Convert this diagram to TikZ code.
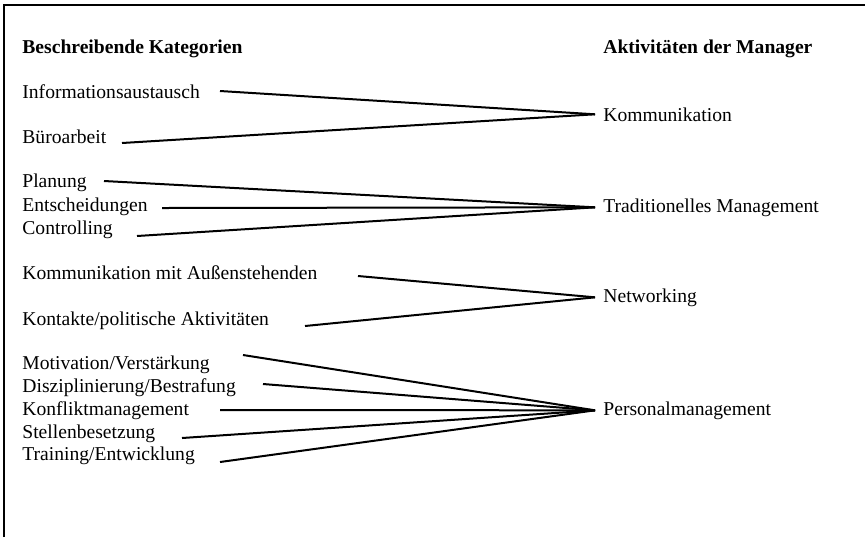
\documentclass[tikz,border=0pt]{standalone}
\usepackage{fontspec}
\setmainfont{Liberation Serif}
\begin{document}
\begin{tikzpicture}[x=0.5pt,y=-0.5pt,
		kat/.style={anchor=base west,inner sep=0pt,font=\fontsize{9.8}{12}\selectfont},
		ziel/.style={anchor=base west,inner xsep=4pt,inner ysep=0pt,font=\fontsize{9.8}{12}\selectfont},
		kopf/.style={anchor=base west,inner sep=0pt,font=\fontsize{9.8}{12}\selectfont\bfseries},
		strich/.style={line width=1pt}]
		\useasboundingbox(0,0)rectangle(865,537);
		\draw[line width=1pt](4,537)--(4,5)--(865,5);
		% Kopfzeile
		\node[kopf](hl)at(22,53){Beschreibende Kategorien};
		\node[kopf](hr)at(603,53){Aktivitäten der Manager};
		% Aktivitaeten rechts
		\node[ziel](kom)at(595,121){Kommunikation};
		\node[ziel](trad)at(595,212){Traditionelles Management};
		\node[ziel](net)at(595,302){Networking};
		\node[ziel](pers)at(595,415){Personalmanagement};
		% Kategorien links
		\node[kat](info)at(22,98){Informationsaustausch};
		\node[kat](buero)at(22,143){Büroarbeit};
		\node[kat](plan)at(22,187){Planung};
		\node[kat](ents)at(22,211){Entscheidungen};
		\node[kat](contr)at(22,234){Controlling};
		\node[kat](aussen)at(22,279){Kommunikation mit Außenstehenden};
		\node[kat](kont)at(22,325){Kontakte/politische Aktivitäten};
		\node[kat](motiv)at(22,369){Motivation/Verstärkung};
		\node[kat](diszi)at(22,392){Disziplinierung/Bestrafung};
		\node[kat](konfl)at(22,415){Konfliktmanagement};
		\node[kat](stell)at(22,438){Stellenbesetzung};
		\node[kat](train)at(22,460){Training/Entwicklung};
		% Anfangspunkte der Striche
		\coordinate(info s)at(220,91);
		\coordinate(buero s)at(122,143);
		\coordinate(plan s)at(104,181);
		\coordinate(ents s)at(162,208);
		\coordinate(contr s)at(137,236);
		\coordinate(aussen s)at(358,276);
		\coordinate(kont s)at(305,326);
		\coordinate(motiv s)at(243,355);
		\coordinate(diszi s)at(263,384);
		\coordinate(konfl s)at(220,410);
		\coordinate(stell s)at(182,438);
		\coordinate(train s)at(220,462);
		\draw[strich](info s)--(kom.west);
		\draw[strich](buero s)--(kom.west);
		\draw[strich](plan s)--(trad.west);
		\draw[strich](ents s)--(trad.west);
		\draw[strich](contr s)--(trad.west);
		\draw[strich](aussen s)--(net.west);
		\draw[strich](kont s)--(net.west);
		\draw[strich](motiv s)--(pers.west);
		\draw[strich](diszi s)--(pers.west);
		\draw[strich](konfl s)--(pers.west);
		\draw[strich](stell s)--(pers.west);
		\draw[strich](train s)--(pers.west);
	    \end{tikzpicture}
\end{document}
